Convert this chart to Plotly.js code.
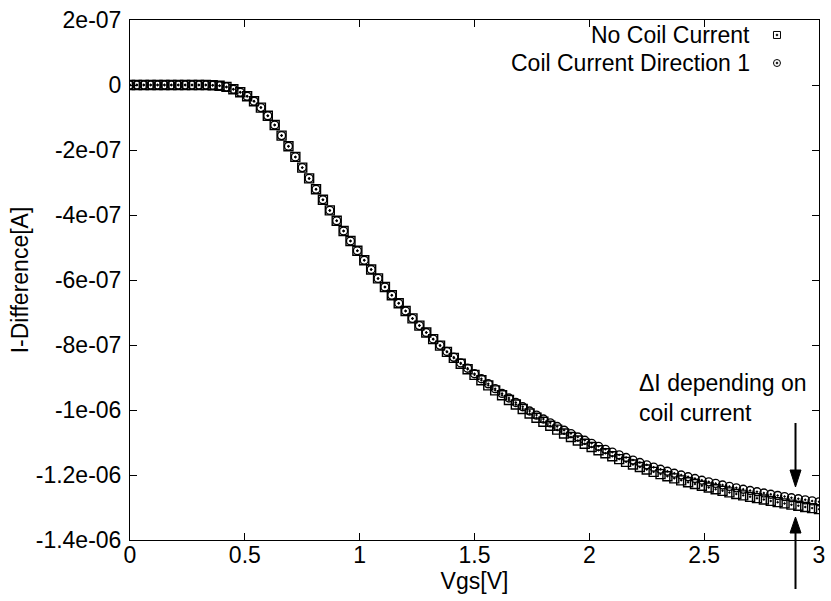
<!DOCTYPE html>
<html>
<head>
<meta charset="utf-8">
<script src="https://cdn.plot.ly/plotly-3.0.1.min.js"></script>
<style>
  html, body { margin: 0; padding: 0; background: #ffffff; }
  #chart { width: 831px; height: 601px; }
</style>
</head>
<body>
<div id="chart"></div>
<script>
// Gate voltage sweep (V)
const vgs = [
  0.00, 0.03, 0.06, 0.09, 0.12, 0.15, 0.18, 0.21, 0.24, 0.27,
  0.30, 0.33, 0.36, 0.39, 0.42, 0.45, 0.48, 0.51, 0.54, 0.57,
  0.60, 0.63, 0.66, 0.69, 0.72, 0.75, 0.78, 0.81, 0.84, 0.87,
  0.90, 0.93, 0.96, 0.99, 1.02, 1.05, 1.08, 1.11, 1.14, 1.17,
  1.20, 1.23, 1.26, 1.29, 1.32, 1.35, 1.38, 1.41, 1.44, 1.47,
  1.50, 1.53, 1.56, 1.59, 1.62, 1.65, 1.68, 1.71, 1.74, 1.77,
  1.80, 1.83, 1.86, 1.89, 1.92, 1.95, 1.98, 2.01, 2.04, 2.07,
  2.10, 2.13, 2.16, 2.19, 2.22, 2.25, 2.28, 2.31, 2.34, 2.37,
  2.40, 2.43, 2.46, 2.49, 2.52, 2.55, 2.58, 2.61, 2.64, 2.67,
  2.70, 2.73, 2.76, 2.79, 2.82, 2.85, 2.88, 2.91, 2.94, 2.97,
  3.00
];

// Current difference in nA, no current through the coil
const noCoilNA = [
  0, 0, 0, 0, 0, 0, 0, 0, 0, 0,
  0, 0, -0.6, -2.5, -5.8, -12.9, -22.5, -34.5, -49.8, -69.5,
  -94.8, -123.1, -155.7, -188.3, -221.2, -254.2, -287.4, -320.6, -353.2, -385.8,
  -417.8, -449.2, -480.0, -510.1, -539.4, -567.7, -595.1, -621.5, -647.1, -671.7,
  -695.4, -718.2, -740.3, -761.5, -782.0, -802.0, -821.3, -839.7, -857.5, -874.7,
  -891.9, -908.3, -924.2, -939.5, -954.5, -969.2, -983.3, -997.0, -1010.6, -1023.7,
  -1036.3, -1048.5, -1060.5, -1072.1, -1083.0, -1093.7, -1104.0, -1114.0, -1123.7, -1133.2,
  -1142.3, -1151.1, -1159.5, -1167.7, -1175.6, -1183.2, -1190.4, -1197.3, -1204.0, -1210.4,
  -1216.5, -1222.1, -1227.9, -1233.2, -1238.6, -1243.7, -1248.8, -1253.5, -1258.3, -1262.7,
  -1267.2, -1271.3, -1275.5, -1279.7, -1283.5, -1287.4, -1291.2, -1294.8, -1298.3, -1301.9,
  -1305.0
];

// Current difference in nA, coil current in direction 1
const dir1NA = [
  0, 0, 0, 0, 0, 0, 0, 0, 0, 0,
  0, 0, -0.6, -2.5, -5.8, -12.9, -22.5, -34.5, -49.8, -69.5,
  -94.8, -123.1, -155.7, -188.3, -221.2, -254.2, -287.4, -320.6, -353.2, -385.8,
  -417.8, -449.2, -480.0, -510.1, -539.4, -567.7, -595.1, -621.5, -647.1, -671.7,
  -695.4, -718.2, -740.3, -761.5, -781.7, -801.0, -819.9, -837.9, -855.1, -871.7,
  -888.3, -903.9, -919.4, -934.3, -948.9, -963.0, -976.7, -990.0, -1003.0, -1015.7,
  -1027.7, -1039.5, -1050.9, -1062.1, -1072.6, -1082.9, -1093.0, -1102.6, -1111.9, -1121.0,
  -1129.7, -1138.1, -1146.3, -1154.1, -1161.6, -1168.8, -1175.8, -1182.3, -1188.6, -1194.6,
  -1200.1, -1205.5, -1210.9, -1216.0, -1221.0, -1225.9, -1230.6, -1235.1, -1239.5, -1243.7,
  -1247.8, -1251.7, -1255.5, -1259.3, -1262.9, -1266.4, -1270.0, -1273.2, -1276.5, -1279.7,
  -1282.6
];

const seriesNames = ["No Coil Current", "Coil Current Direction 1"];

const xTickVals = [0, 0.5, 1, 1.5, 2, 2.5, 3];
const xTickText = ["0", "0.5", "1", "1.5", "2", "2.5", "3"];
const yTickVals = [2e-7, 0, -2e-7, -4e-7, -6e-7, -8e-7, -1e-6, -1.2e-6, -1.4e-6];
const yTickText = ["2e-07", "0", "-2e-07", "-4e-07", "-6e-07", "-8e-07", "-1e-06", "-1.2e-06", "-1.4e-06"];

const toAmp = v => v * 1e-9;
const FONT = "Liberation Sans, Arial, Helvetica, sans-serif";
const FS = 23;

const traces = [
  {
    x: vgs, y: noCoilNA.map(toAmp), name: seriesNames[0],
    type: "scatter", mode: "markers",
    marker: { symbol: "square-open-dot", size: 9, color: "#000", line: { width: 1.4, color: "#000" } },
    showlegend: false
  },
  {
    x: vgs, y: dir1NA.map(toAmp), name: seriesNames[1],
    type: "scatter", mode: "markers",
    marker: { symbol: "circle-open-dot", size: 8, color: "#000", line: { width: 1.4, color: "#000" } },
    showlegend: false
  }
];

// key drawn gnuplot-style: right-justified label, sample symbol to its right
const keyRows = [0.9712, 0.9173];
const keyTextX = 0.9028;
const keySymX = 0.939;
const hx = 3.5 / 689, hy = 3.5 / 520;
const dx = 1 / 689, dy = 1 / 520;

const shapes = [
  // square sample
  { type: "rect", xref: "paper", yref: "paper",
    x0: keySymX - hx, x1: keySymX + hx, y0: keyRows[0] - hy, y1: keyRows[0] + hy,
    line: { color: "#000", width: 1 }, fillcolor: "rgba(0,0,0,0)" },
  { type: "circle", xref: "paper", yref: "paper",
    x0: keySymX - dx, x1: keySymX + dx, y0: keyRows[0] - dy, y1: keyRows[0] + dy,
    line: { color: "#000", width: 0.5 }, fillcolor: "#000" },
  // circle sample
  { type: "circle", xref: "paper", yref: "paper",
    x0: keySymX - hx, x1: keySymX + hx, y0: keyRows[1] - hy, y1: keyRows[1] + hy,
    line: { color: "#000", width: 1 }, fillcolor: "rgba(0,0,0,0)" },
  { type: "circle", xref: "paper", yref: "paper",
    x0: keySymX - dx, x1: keySymX + dx, y0: keyRows[1] - dy, y1: keyRows[1] + dy,
    line: { color: "#000", width: 0.5 }, fillcolor: "#000" }
];

// arrows marking the gap between the two curves near the right edge
const ax = 0.9659;          // arrow column (paper x)
const aw = 5.5 / 689;       // half head width
const down = { top: (540 - 423) / 520, base: (540 - 470) / 520, tip: (540 - 487) / 520 };
const up = { bottom: (540 - 589) / 520, base: (540 - 533) / 520, tip: (540 - 517) / 520 };
shapes.push(
  { type: "line", xref: "paper", yref: "paper", x0: ax, x1: ax, y0: down.top, y1: down.base,
    line: { color: "#000", width: 2 } },
  { type: "path", xref: "paper", yref: "paper",
    path: `M ${ax - aw} ${down.base} L ${ax + aw} ${down.base} L ${ax} ${down.tip} Z`,
    fillcolor: "#000", line: { color: "#000", width: 1 } },
  { type: "line", xref: "paper", yref: "paper", x0: ax, x1: ax, y0: up.bottom, y1: up.base,
    line: { color: "#000", width: 2 } },
  { type: "path", xref: "paper", yref: "paper",
    path: `M ${ax - aw} ${up.base} L ${ax + aw} ${up.base} L ${ax} ${up.tip} Z`,
    fillcolor: "#000", line: { color: "#000", width: 1 } }
);

const annotations = [
  { xref: "paper", yref: "paper", x: keyTextX, y: keyRows[0], xanchor: "right", yanchor: "middle",
    text: seriesNames[0], showarrow: false, font: { family: FONT, size: FS, color: "#000" } },
  { xref: "paper", yref: "paper", x: keyTextX, y: keyRows[1], xanchor: "right", yanchor: "middle",
    text: seriesNames[1], showarrow: false, font: { family: FONT, size: FS, color: "#000" } },
  { xref: "paper", yref: "paper", x: 0.7358, y: 0.2731, xanchor: "left", yanchor: "middle", align: "left",
    text: "ΔI depending on<br>coil current", showarrow: false,
    font: { family: FONT, size: FS, color: "#000" } }
];

const axisCommon = {
  showgrid: false, zeroline: false,
  showline: true, linecolor: "#000", linewidth: 1, mirror: "ticks",
  ticks: "inside", ticklen: 7, tickwidth: 1, tickcolor: "#000",
  tickfont: { family: FONT, size: FS, color: "#000" }
};

const layout = {
  width: 831, height: 601,
  margin: { l: 130, r: 12, t: 20, b: 61 },
  paper_bgcolor: "#fff", plot_bgcolor: "#fff",
  font: { family: FONT, size: FS, color: "#000" },
  showlegend: false,
  xaxis: Object.assign({}, axisCommon, {
    range: [0, 3], tickvals: xTickVals, ticktext: xTickText,
    ticklabelstandoff: -6,
    title: { text: "Vgs[V]", font: { family: FONT, size: FS, color: "#000" }, standoff: 4 }
  }),
  yaxis: Object.assign({}, axisCommon, {
    range: [-1.4e-6, 2e-7], tickvals: yTickVals, ticktext: yTickText,
    ticklabelstandoff: 3,
    title: { text: "I-Difference[A]", font: { family: FONT, size: FS, color: "#000" }, standoff: 0 }
  }),
  shapes: shapes,
  annotations: annotations
};

Plotly.newPlot("chart", traces, layout, { staticPlot: true, displayModeBar: false });
</script>
</body>
</html>
